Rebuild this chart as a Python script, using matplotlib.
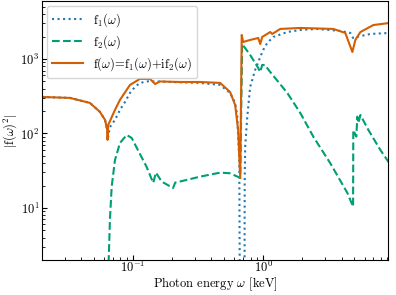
import numpy as np
import matplotlib
matplotlib.use("Agg")
import matplotlib.pyplot as plt

plt.rcParams['font.family'] = 'serif'
plt.rcParams['font.serif'] = ['cmr10']
plt.rcParams['mathtext.fontset'] = 'cm'
plt.rcParams['axes.formatter.use_mathtext'] = True
plt.rcParams['font.size'] = 9

# f = f1 + i f2, magnitude
e_f = [0.020, 0.0328, 0.0467, 0.0557, 0.061, 0.0635, 0.0638, 0.0645, 0.0727, 0.0794,
       0.0948, 0.113, 0.135, 0.148, 0.161, 0.230, 0.327, 0.467, 0.557, 0.609,
       0.642, 0.666, 0.684, 0.701, 0.794, 0.916, 0.949, 0.982, 1.132, 1.173,
       1.352, 1.928, 3.45, 4.27, 4.84, 5.10, 5.58, 7.02, 9.3]
v_f = [309, 300, 257, 195, 152, 110, 82, 130, 207, 282,
       448, 540, 540, 461, 499, 491, 491, 477, 360, 241,
       111, 25.3, 2100, 1690, 1800, 1913, 1588, 1973, 2300, 2166,
       2530, 2608, 2530, 2235, 1241, 1800, 2300, 2856, 3040]

# f1
e_1 = [0.020, 0.0328, 0.0467, 0.0557, 0.061, 0.0635, 0.0638, 0.0665, 0.0727, 0.0794,
       0.0868, 0.0948, 0.1036, 0.113, 0.135, 0.148, 0.161, 0.193, 0.327, 0.467,
       0.557, 0.609, 0.631, 0.655, 0.668, 0.715, 0.721, 0.727, 0.754, 0.794,
       0.867, 0.949, 1.0, 1.074, 1.194, 1.531, 1.928, 2.60, 3.91, 4.67,
       4.90, 5.20, 6.65, 9.3]
v_1 = [309, 300, 257, 195, 152, 110, 82, 122, 152, 207,
       265, 350, 421, 477, 507, 495, 499, 491, 477, 448,
       350, 257, 177, 44, 0.01, 0.01, 23.8, 66, 166, 421,
       711, 1063, 1321, 1640, 1973, 2300, 2449, 2530, 2377, 2235,
       1913, 1973, 2166, 2235]

# f2
e_2 = [0.0635, 0.0665, 0.0686, 0.0727, 0.0794, 0.0895, 0.0977, 0.109, 0.127, 0.143,
       0.150, 0.166, 0.203, 0.211, 0.259, 0.327, 0.467, 0.557, 0.666, 0.689,
       0.794, 0.916, 0.949, 0.982, 1.03, 1.132, 1.531, 1.928, 2.43, 3.27,
       4.43, 4.90, 4.92, 5.19, 5.28, 5.38, 5.58, 6.43, 7.94, 9.3]
v_2 = [0.5, 6.9, 19.3, 44, 74.5, 95.5, 87, 60, 35.8, 21.7,
       29.8, 22.6, 18.5, 21.9, 23.8, 26.3, 29.8, 29.2, 25.3, 1590,
       1132, 757, 669, 830, 830, 669, 350, 188, 90, 40,
       15.9, 10.4, 111, 90.6, 168, 138, 177, 111, 60, 40]

fig = plt.figure(figsize=(3.96, 2.95), dpi=100)
ax = fig.add_axes([0.106, 0.1186, 0.874, 0.878])

ax.plot(e_1, v_1, ':', color='#1f77b4', lw=1.5, label=r'f$_1(\omega)$')
ax.plot(e_2, v_2, '--', color='#009e73', lw=1.5, label=r'f$_2(\omega)$')
ax.plot(e_f, v_f, '-', color='#d55e00', lw=1.5,
        label=r'f$(\omega)$=f$_1(\omega)$+if$_2(\omega)$')

ax.set_xscale('log')
ax.set_yscale('log')
ax.set_xlim(0.02, 9.1)
ax.set_ylim(2.0, 6000)
ax.tick_params(which='both', direction='in', pad=2)
ax.tick_params(axis='x', which='both', pad=0)
ax.set_xlabel(r'Photon energy $\omega$ [keV]', labelpad=0)
ax.set_ylabel(r'$|$f$(\omega)^2|$', labelpad=1)
ax.legend(loc='upper left', fontsize=9, labelspacing=0.35, handlelength=2.5,
          borderaxespad=0.4)

fig.savefig('out.png', dpi=100)
